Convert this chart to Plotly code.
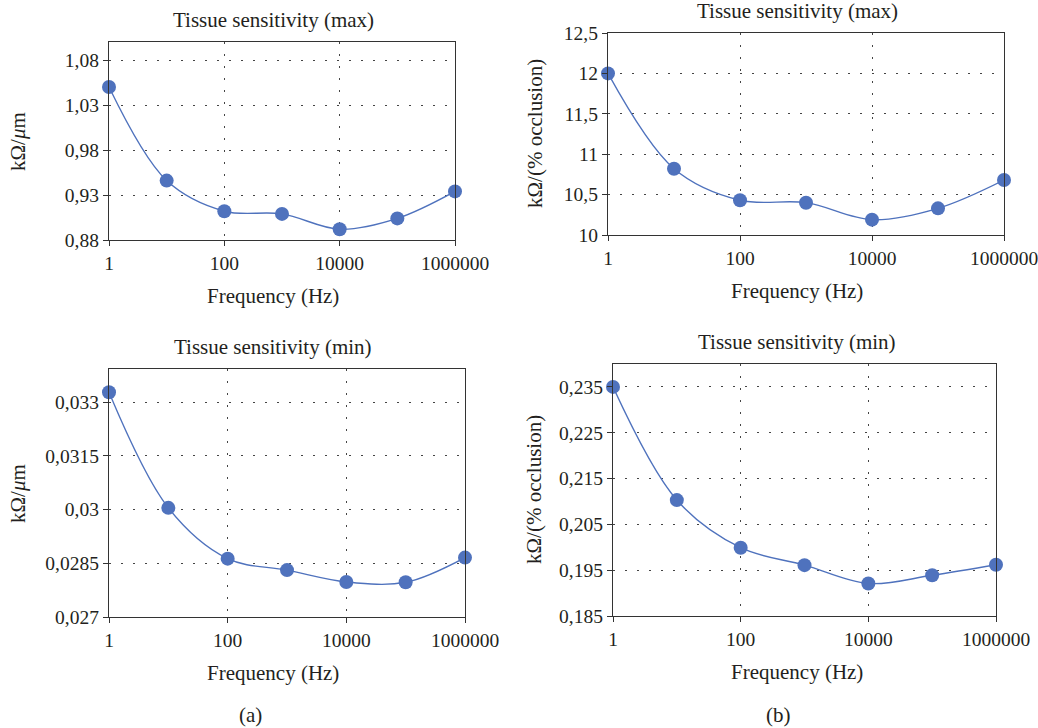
import plotly.graph_objects as go

W, H = 1038, 728

freq = [1, 10, 100, 1000, 10000, 100000, 1000000]
a_max = [1.050, 0.946, 0.912, 0.909, 0.892, 0.904, 0.934]
b_max = [12.00, 10.82, 10.43, 10.40, 10.19, 10.33, 10.68]
a_min = [0.03328, 0.03005, 0.02863, 0.02831, 0.02798, 0.02797, 0.02866]
b_min = [0.2350, 0.2103, 0.1999, 0.1961, 0.1921, 0.1939, 0.1962]

x_tickvals = [1, 100, 10000, 1000000]
x_ticktext = ["1", "100", "10000", "1000000"]
a_max_ticks = [0.88, 0.93, 0.98, 1.03, 1.08]
a_max_text = ["0,88", "0,93", "0,98", "1,03", "1,08"]
b_max_ticks = [10, 10.5, 11, 11.5, 12, 12.5]
b_max_text = ["10", "10,5", "11", "11,5", "12", "12,5"]
a_min_ticks = [0.027, 0.0285, 0.030, 0.0315, 0.033]
a_min_text = ["0,027", "0,0285", "0,03", "0,0315", "0,033"]
b_min_ticks = [0.185, 0.195, 0.205, 0.215, 0.225, 0.235]
b_min_text = ["0,185", "0,195", "0,205", "0,215", "0,225", "0,235"]

FONT = "Liberation Serif"
TXT = "#231f20"
BLUE = "#4f72bd"
AX = "#333333"

def px_x(p):
    return p / W

def px_y(p):
    return 1 - p / H

panels = [
    # data, ticks, texts, y-range, x-domain px, y-domain px, title, ytitle, centre x, ytitle x
    (a_max, a_max_ticks, a_max_text, [0.88, 1.10], (109, 455), (42, 240),
     "Tissue sensitivity (max)", "kΩ/<i>μ</i>m", 273, 18),
    (b_max, b_max_ticks, b_max_text, [10, 12.5], (608, 1004), (33, 235),
     "Tissue sensitivity (max)", "kΩ/(% occlusion)", 797, 535),
    (a_min, a_min_ticks, a_min_text, [0.027, 0.03393], (109, 465), (369, 617),
     "Tissue sensitivity (min)", "kΩ/<i>μ</i>m", 273, 18),
    (b_min, b_min_ticks, b_min_text, [0.185, 0.24], (613, 996), (364, 616),
     "Tissue sensitivity (min)", "kΩ/(% occlusion)", 797, 534),
]

fig = go.Figure()
layout = {}
annotations = []

def ann(text, x, y, size=21, angle=0):
    annotations.append(dict(
        text=text, xref="paper", yref="paper", x=px_x(x), y=px_y(y),
        showarrow=False, textangle=angle,
        font=dict(family=FONT, size=size, color=TXT),
        xanchor="center", yanchor="middle",
    ))

for i, (ys, tv, tt, rng, xd, yd, title, ytitle, cx, yx) in enumerate(panels, start=1):
    xa = "x" if i == 1 else f"x{i}"
    ya = "y" if i == 1 else f"y{i}"
    fig.add_trace(go.Scatter(
        x=freq, y=ys, xaxis=xa, yaxis=ya, mode="lines+markers",
        line=dict(color=BLUE, width=1.4, shape="spline", smoothing=1.0),
        marker=dict(color=BLUE, size=14),
        cliponaxis=False, showlegend=False,
    ))
    common = dict(
        showline=True, linecolor=AX, linewidth=1.4, mirror=True,
        ticks="outside", ticklen=5, tickcolor=AX, tickwidth=1.2,
        tickfont=dict(family=FONT, size=19.5, color=TXT),
        showgrid=True, gridcolor="#444444", gridwidth=1.2,
        griddash="1.5px,10.5px", zeroline=False, automargin=False,
        ticklabeloverflow="allow",
    )
    layout["xaxis" if i == 1 else f"xaxis{i}"] = dict(
        type="log", range=[0, 6], tickvals=x_tickvals, ticktext=x_ticktext,
        domain=[px_x(xd[0]), px_x(xd[1])], anchor=ya, **common,
    )
    layout["yaxis" if i == 1 else f"yaxis{i}"] = dict(
        range=rng, tickvals=tv, ticktext=tt,
        domain=[px_y(yd[1]), px_y(yd[0])], anchor=xa, **common,
    )
    ann(title, cx, yd[0] - 22)
    ann("Frequency (Hz)", cx, yd[1] + 56)
    ann(ytitle, yx, (yd[0] + yd[1]) / 2, angle=-90)

ann("(a)", 250, 715)
ann("(b)", 778, 715)

fig.update_layout(
    width=W, height=H, margin=dict(l=0, r=0, t=0, b=0, autoexpand=False),
    paper_bgcolor="white", plot_bgcolor="white",
    annotations=annotations, **layout,
)

fig.write_html("out.html")
